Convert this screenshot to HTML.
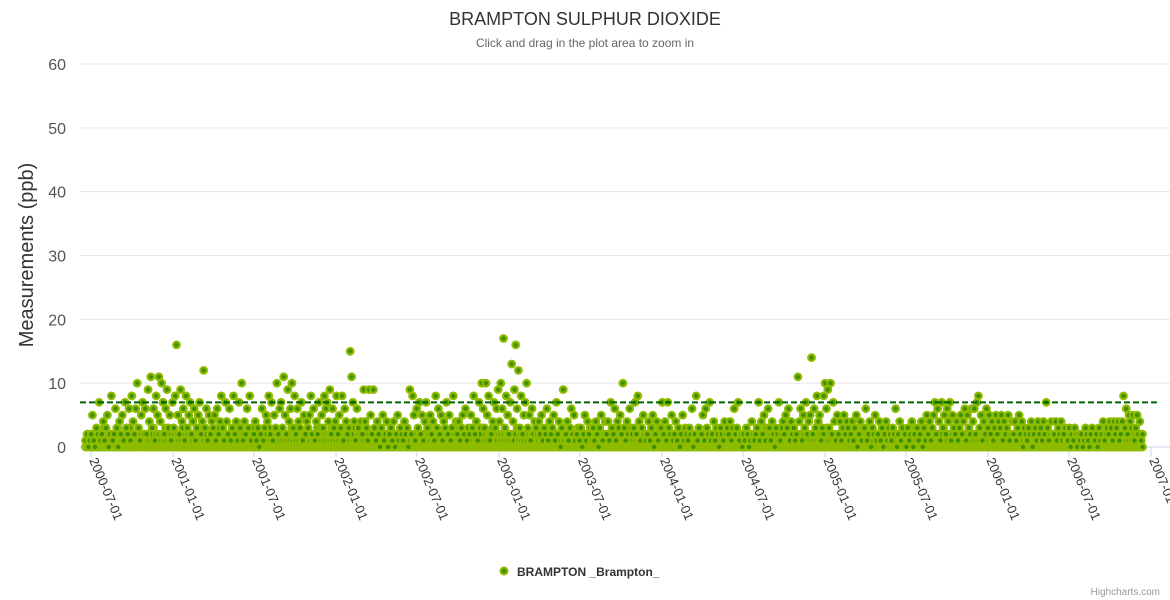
<!DOCTYPE html>
<html><head><meta charset="utf-8">
<style>
html,body{margin:0;padding:0;background:#fff;}
svg{display:block;font-family:"Liberation Sans",sans-serif;}
</style></head>
<body>
<svg id="chart" width="1170" height="600" viewBox="0 0 1170 600">
  <text x="585" y="25" text-anchor="middle" font-size="18" fill="#333">BRAMPTON SULPHUR DIOXIDE</text>
  <text x="585" y="47" text-anchor="middle" font-size="12" fill="#666">Click and drag in the plot area to zoom in</text>
  <text transform="translate(33,255) rotate(-90)" text-anchor="middle" font-size="20" fill="#333">Measurements (ppb)</text>
  <g id="grid"></g>
  <g id="ylabels"></g>
  <g id="xaxis"></g>
  <g id="points"></g>
  <line id="plotline" stroke="#006400" stroke-width="2" stroke-dasharray="6,3"></line>
  <g>
    <circle cx="504" cy="571" r="3.4" fill="#3f8f00" stroke="#8dbb00" stroke-width="2.2"></circle>
    <text x="517" y="576" font-size="12" font-weight="bold" fill="#333">BRAMPTON _Brampton_</text>
  </g>
  <text x="1160" y="595" text-anchor="end" font-size="10" fill="#999">Highcharts.com</text>
</svg>
<script>
const yTicks = [0, 10, 20, 30, 40, 50, 60];
const xTickLabels = ["2000-07-01","2001-01-01","2001-07-01","2002-01-01","2002-07-01","2003-01-01","2003-07-01","2004-01-01","2004-07-01","2005-01-01","2005-07-01","2006-01-01","2006-07-01","2007-01-01"];
const thresholdValue = 7;
const seriesStart = "2000-06-19";
const seriesEnd = "2006-12-13";
const v2000 = [1,2,0,1, 2,5,1,0,3,2,7,1,2,4, 1,3,5,0,2,8,1,2,6,3, 0,4,2,5,1,7,3,2,6,1, 8,4,2,6,10,3,1,5,7,2, 6,2,9,4,11,3,6,1,8,5, 11,4,10,7,2,6,9,3,5,1];
const v2001 = [7,3,8,16,5,2,9,4,6,1, 8,3,5,7,2,4,6,1,3,5, 7,2,4,12,3,6,1,5,2,4, 3,5,1,6,2,4,8,3,1,7, 4,2,6,1,3,8,2,4,1,7, 3,10,1,4,2,6,3,8,1,2, 2,4,1,3,0,2,6,1,3,5, 4,8,2,7,1,5,3,10,2,6, 7,3,11,5,2,9,4,6,10,3, 8,2,6,4,3,7,1,5,2,4, 3,5,8,2,6,1,4,2,7,3, 5,3,8,6,7,4,9,2,6,3];
const v2002 = [4,8,2,5,3,8,1,6,4,2, 3,15,11,7,4,1,6,3,2,4, 2,9,4,3,1,9,5,2,9,3, 1,4,2,0,3,5,1,2,4,0, 2,3,1,4,0,2,5,1,3,2, 1,4,2,3,0,9,2,8,5,1, 6,3,7,2,5,1,4,7,3,2, 5,2,4,1,8,3,6,2,5,1, 4,3,7,2,5,1,3,8,2,4, 2,4,1,3,5,2,6,1,3,2, 5,3,8,2,4,1,7,3,10,6, 3,10,5,8,1,2,4,7,3,6];
const v2003 = [9,4,10,6,17,3,8,5,2,7, 13,4,9,16,6,12,3,8,2,5, 7,10,3,5,1,6,2,4,3,2, 4,2,5,1,3,2,6,1,4,2, 3,5,1,7,2,4,0,3,9,2, 2,4,1,3,6,2,5,1,2,3, 1,3,0,2,5,1,4,2,3,1, 3,1,4,2,0,3,5,1,2,4, 2,4,1,7,3,2,6,1,4,3, 5,2,10,3,1,4,2,6,3,2, 3,7,2,8,4,1,3,5,2,1, 2,4,1,3,5,0,2,4,1,3];
const v2004 = [3,7,2,4,1,7,3,2,5,1, 2,4,1,3,0,2,5,1,3,2, 1,3,2,6,0,2,8,1,3,2, 2,5,1,6,3,2,7,1,2,4, 1,3,2,0,3,2,1,4,2,3, 2,4,1,3,6,2,3,7,1,2, 0,2,1,3,2,0,1,4,2,1, 2,3,7,1,4,2,5,1,3,6, 3,1,4,2,0,3,2,7,1,2, 4,2,5,3,6,1,4,2,3,1, 2,11,4,6,1,5,3,7,2,4, 5,14,2,6,3,8,4,5,1,3];
const v2005 = [8,10,6,9,3,10,2,7,4,1, 5,2,4,1,3,5,2,4,3,1, 2,4,1,3,5,0,2,4,1,3, 3,6,1,2,4,0,3,2,5,1, 2,4,1,3,0,2,4,1,3,2, 1,3,2,6,0,2,4,1,3,2, 2,0,3,1,2,4,0,2,1,3, 1,2,4,0,3,1,5,2,4,1, 3,5,7,2,6,4,1,7,3,5, 2,6,4,7,1,5,3,2,4,1, 3,5,2,4,6,1,5,3,2,6, 4,6,2,7,8,3,5,1,4,2];
const v2006 = [6,3,5,2,4,1,3,5,2,4, 3,5,1,4,2,3,5,1,2,4, 2,4,1,3,5,2,4,0,3,2, 1,3,2,4,0,2,3,1,4,2, 3,1,4,2,7,3,1,2,4,2, 2,4,1,3,2,4,1,2,3,1, 1,3,0,2,1,3,2,0,2,1, 2,0,1,3,2,1,0,2,3,1, 1,2,0,3,1,2,4,1,2,3, 2,4,3,1,4,2,3,4,1,2, 4,8,3,6,2,5,4,3,5,1, 3,5,2,4,1,2];
// low background readings (the dense 0-3 ppb band), two per 3-day step
const low2000 = "0102101201021012010201012030101201021020102103012010201201021030102010210120102010201021010201030102010201";
const low2001 = "1020103010201021012010201020103010201020102010201020102010201020100102010201020103010201021020102010301020102010210201020102010301020102010201020102010301020102010201020102010201020103010201020102010201020102010201020103010201020";
const low2002 = "1020102010301020102010201020102010201020103010201020102010201020102010201020103010201020102010201020102010201030102010201020102010201020102010201030102010201020102010201020102010201030102010201020102010201020102010201020103010201020";
const low2003 = "2010301020102010201020102010201020102030102010201020102010201020102010201020102010201020102010201020102010201020102010201020102010201020102010201020102010201020102010201020102010201020102010201020102010201020102010201020102010201020";
const low2004 = "1020102010201020102010201020102010201020102010201020102010201020102010201020102010201020102010201020102010201020102010201020102010201020102010201020102010301020102010201020102030102010201020102010201020102010201020102010201020102010";
const low2005 = "2010201030102010201020102010201020102010201020102010201020102010201020102010201020102010201020102010201020102010201020102010201020103010201020102010201020102010201020102010301020102010201020102010201020102010201020102010201020102010";
const low2006 = "1020102010201020102010201020102010201020102010201020102010201020102010201020102010201020102010201020102010201020102010201020102010201020102010201020102010201020102010201020102010201020102010201020102010201020102010201020";

const NS = "http://www.w3.org/2000/svg";
const plotLeft = 80, plotRight = 1170, plotTop = 64, plotBottom = 447;
const x0Date = Date.parse(xTickLabels[0]), x1Date = Date.parse(xTickLabels[xTickLabels.length-1]);
const xPx0 = 91, xPx1 = 1151;
function xScale(t){ return xPx0 + (t - x0Date) / (x1Date - x0Date) * (xPx1 - xPx0); }
function yScale(v){ return plotBottom - v / 60 * (plotBottom - plotTop); }

const grid = document.getElementById('grid');
const ylab = document.getElementById('ylabels');
yTicks.forEach(v => {
  const y = yScale(v);
  const l = document.createElementNS(NS,'line');
  l.setAttribute('x1', plotLeft); l.setAttribute('x2', plotRight);
  l.setAttribute('y1', y); l.setAttribute('y2', y);
  l.setAttribute('stroke', v === 0 ? '#ccd6eb' : '#e6e6e6'); l.setAttribute('stroke-width', 1);
  
  
  grid.appendChild(l);
  const t = document.createElementNS(NS,'text');
  t.setAttribute('x', 66); t.setAttribute('y', y + 6);
  t.setAttribute('text-anchor','end'); t.setAttribute('font-size','16'); t.setAttribute('fill','#555');
  t.textContent = v;
  
  
  ylab.appendChild(t);
});

const xa = document.getElementById('xaxis');
xTickLabels.forEach(lbl => {
  const x = xScale(Date.parse(lbl));
  const tk = document.createElementNS(NS,'line');
  tk.setAttribute('x1', x); tk.setAttribute('x2', x); tk.setAttribute('y1', plotBottom); tk.setAttribute('y2', plotBottom + 10);
  tk.setAttribute('stroke', '#ccd6eb');
  
  
  xa.appendChild(tk);
  const t = document.createElementNS(NS,'text');
  const tx = x - 2, ty = plotBottom + 13;
  t.setAttribute('x', tx); t.setAttribute('y', ty);
  t.setAttribute('transform', 'rotate(67 ' + tx + ' ' + ty + ')');
  t.setAttribute('font-size', '13'); t.setAttribute('fill', '#333');
  t.textContent = lbl;
  
  
  xa.appendChild(t);
});

const s0 = Date.parse(seriesStart), s1 = Date.parse(seriesEnd);
const pts = document.getElementById('points');
function drawPoint(t, v){
  const c = document.createElementNS(NS,'circle');
  c.setAttribute('cx', xScale(t).toFixed(1));
  c.setAttribute('cy', yScale(v).toFixed(1));
  c.setAttribute('r', 3.3);
  c.setAttribute('fill', '#3f8f00');
  c.setAttribute('stroke', '#8dbb00');
  c.setAttribute('stroke-width', 2.2);
  
  
  pts.appendChild(c);
}
const lowValues = (low2000 + low2001 + low2002 + low2003 + low2004 + low2005 + low2006).split('').map(Number);
lowValues.forEach((v, i) => {
  drawPoint(s0 + (s1 - s0) * i / (lowValues.length - 1), v);
});
const values = [].concat(v2000, v2001, v2002, v2003, v2004, v2005, v2006);
values.forEach((v, i) => {
  drawPoint(s0 + (s1 - s0) * i / (values.length - 1), v);
});

const pl = document.getElementById('plotline');
pl.setAttribute('x1', plotLeft); pl.setAttribute('x2', 1160);
pl.setAttribute('y1', yScale(thresholdValue)); pl.setAttribute('y2', yScale(thresholdValue));
</script>
</body></html>
